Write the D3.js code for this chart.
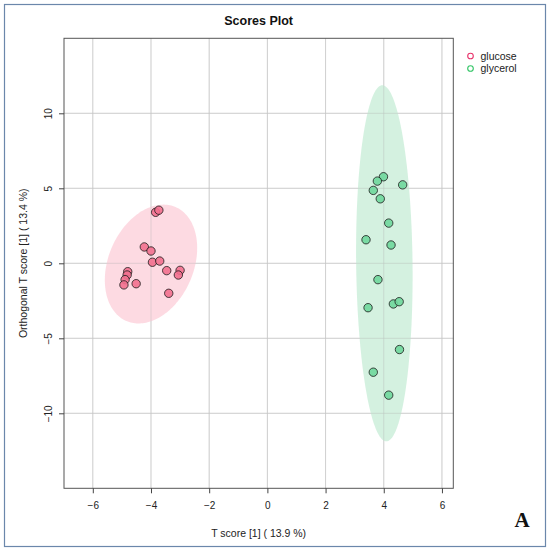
<!DOCTYPE html>
<html>
<head>
<meta charset="utf-8">
<script src="https://cdn.jsdelivr.net/npm/d3@7"></script>
<style>
  body { margin: 0; background: #fff; }
  text { font-family: "Liberation Sans", Arial, sans-serif; }
</style>
</head>
<body>
<div id="chart"></div>
<script>
// scores
const glucoseT = [-3.84, -3.73, -4.23, -4.00, -3.95, -3.70, -3.46, -3.00, -3.06, -4.80, -4.82, -4.89, -4.93, -4.51, -3.39];
const glucoseO = [3.40, 3.54, 1.09, 0.82, 0.07, 0.15, -0.49, -0.47, -0.78, -0.56, -0.78, -1.09, -1.44, -1.36, -2.00];
const glycerolT = [3.99, 3.78, 4.65, 3.64, 3.88, 4.17, 3.39, 4.25, 3.80, 3.46, 4.33, 4.53, 4.54, 3.64, 4.17];
const glycerolO = [5.77, 5.48, 5.23, 4.86, 4.30, 2.68, 1.57, 1.22, -1.09, -2.96, -2.71, -2.56, -5.75, -7.26, -8.79];

const groups = ["glucose", "glycerol"];
// confidence ellipses: centre, then the two half-axis vectors in data units
const ellipseCentre = [[-4.0, -0.05], [4.02, 0.0]];
const ellipseAxisU = [[0.844, 3.80], [-0.07, 11.87]];
const ellipseAxisV = [[1.344, -1.122], [0.969, 0.022]];

const xTicks = [-6, -4, -2, 0, 2, 4, 6];
const yTicks = [-10, -5, 0, 5, 10];

const width = 550, height = 551;
const plotLeft = 64, plotRight = 453.3, plotTop = 38.3, plotBottom = 488.3;

const pointFill = ["#f2708f", "#6fd79c"];
const ellipseFill = ["#fdd3dd", "#cdeedb"];
const legendColor = ["#e8336b", "#2fc463"];

const svg = d3.select("#chart").append("svg")
    .attr("width", width)
    .attr("height", height);

// outer frame
svg.append("rect")
    .attr("x", 4.5).attr("y", 4.5)
    .attr("width", 541).attr("height", 542)
    .attr("fill", "none")
    .attr("stroke", "#6b87ab")
    .attr("stroke-width", 1.2);

const x = d3.scaleLinear().domain([-6.99, 6.39]).range([plotLeft, plotRight]);
const y = d3.scaleLinear().domain([-15, 15]).range([plotBottom, plotTop]);

function drawGrid(colour, opacity) {
    svg.append("g").selectAll("line").data(xTicks).join("line")
        .attr("x1", d => x(d)).attr("x2", d => x(d))
        .attr("y1", plotTop).attr("y2", plotBottom)
        .attr("stroke", colour).attr("stroke-opacity", opacity);
    svg.append("g").selectAll("line").data(yTicks).join("line")
        .attr("y1", d => y(d)).attr("y2", d => y(d))
        .attr("x1", plotLeft).attr("x2", plotRight)
        .attr("stroke", colour).attr("stroke-opacity", opacity);
}

drawGrid("#dcdcdc", 1);

// ellipses
const lineGenerator = d3.line()
    .x(d => x(d[0]))
    .y(d => y(d[1]))
    .curve(d3.curveLinearClosed);
const steps = d3.range(0, 2 * Math.PI, Math.PI / 90);
groups.forEach((g, i) => {
    const c = ellipseCentre[i], u = ellipseAxisU[i], v = ellipseAxisV[i];
    const pts = steps.map(t => [
        c[0] + u[0] * Math.cos(t) + v[0] * Math.sin(t),
        c[1] + u[1] * Math.cos(t) + v[1] * Math.sin(t)
    ]);
    svg.append("path")
        .attr("d", lineGenerator(pts))
        .attr("fill", ellipseFill[i])
        .attr("fill-opacity", 0.85)
        .attr("stroke", "none");
});

// grid shows faintly through the ellipses in the original
drawGrid("#b8b8b8", 0.35);

// points
const series = [
    d3.zip(glucoseT, glucoseO),
    d3.zip(glycerolT, glycerolO)
];
series.forEach((pts, i) => {
    svg.append("g").selectAll("circle").data(pts).join("circle")
        .attr("cx", d => x(d[0]))
        .attr("cy", d => y(d[1]))
        .attr("r", 4.2)
        .attr("fill", pointFill[i])
        .attr("fill-opacity", 0.9)
        .attr("stroke", "#1a1a1a")
        .attr("stroke-width", 0.8);
});

// plot box
svg.append("rect")
    .attr("x", plotLeft).attr("y", plotTop)
    .attr("width", plotRight - plotLeft).attr("height", plotBottom - plotTop)
    .attr("fill", "none")
    .attr("stroke", "#555")
    .attr("stroke-width", 1);

// axes
const xAxis = svg.append("g")
    .attr("transform", `translate(0,${plotBottom})`)
    .call(d3.axisBottom(x).tickValues(xTicks).tickSize(5).tickPadding(9));
const yAxis = svg.append("g")
    .attr("transform", `translate(${plotLeft},0)`)
    .call(d3.axisLeft(y).tickValues(yTicks).tickSize(5).tickPadding(0));
[xAxis, yAxis].forEach(a => {
    a.select(".domain").remove();
    a.selectAll(".tick line").attr("stroke", "#444");
    a.selectAll(".tick text")
        .attr("font-size", 10)
        .attr("fill", "#222");
});
yAxis.selectAll(".tick text")
    .attr("x", 0).attr("dy", 0)
    .attr("text-anchor", "middle")
    .attr("transform", "translate(-12,0) rotate(-90)");

// titles
svg.append("text")
    .attr("x", (plotLeft + plotRight) / 2).attr("y", 25)
    .attr("text-anchor", "middle")
    .attr("font-size", 12.5).attr("font-weight", "bold")
    .attr("fill", "#111")
    .text("Scores Plot");
svg.append("text")
    .attr("x", (plotLeft + plotRight) / 2).attr("y", 537)
    .attr("text-anchor", "middle")
    .attr("font-size", 10.5).attr("fill", "#222")
    .text("T score [1] ( 13.9 %)");
svg.append("text")
    .attr("transform", `translate(27,${(plotTop + plotBottom) / 2}) rotate(-90)`)
    .attr("text-anchor", "middle")
    .attr("font-size", 10.5).attr("fill", "#222")
    .text("Orthogonal T score [1] ( 13.4 %)");

// legend
groups.forEach((g, i) => {
    svg.append("circle")
        .attr("cx", 470.5).attr("cy", 56 + i * 12.5)
        .attr("r", 2.8)
        .attr("fill", "none")
        .attr("stroke", legendColor[i])
        .attr("stroke-width", 1.1);
    svg.append("text")
        .attr("x", 480.5).attr("y", 59.8 + i * 12.5)
        .attr("font-size", 10.5).attr("fill", "#222")
        .text(g);
});

// panel letter (style, so the css sans rule does not win)
svg.append("text")
    .attr("x", 522).attr("y", 527)
    .attr("text-anchor", "middle")
    .style("font-family", "'Liberation Serif', 'Times New Roman', serif")
    .attr("font-weight", "bold")
    .attr("font-size", 21)
    .attr("fill", "#111")
    .text("A");
</script>
</body>
</html>
